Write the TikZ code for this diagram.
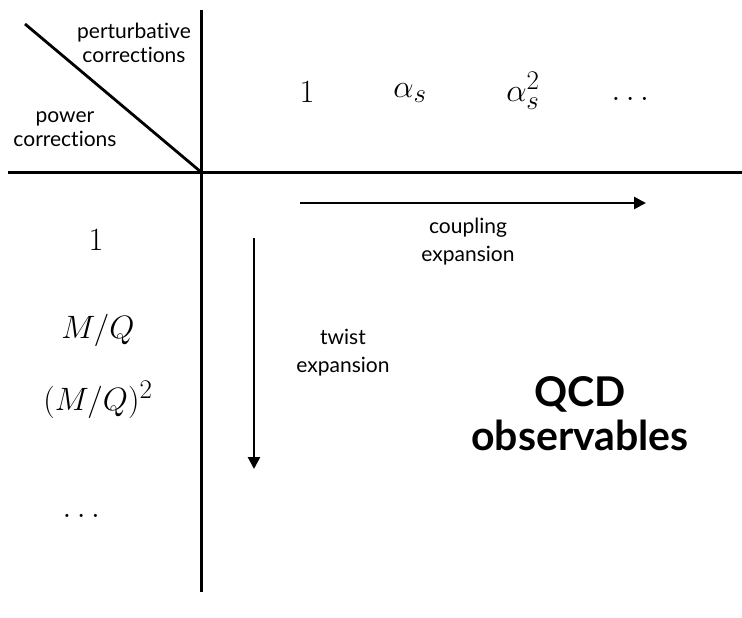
\documentclass[tikz,border=0pt]{standalone}
\usepackage{amsmath}
\usepackage[no-math]{fontspec}
\setmainfont{Lato}[Ligatures=CommonOff]
\usetikzlibrary{positioning,arrows.meta}

\begin{document}
\begin{tikzpicture}[
    x=1pt, y=-1pt,
    axis/.style={line width=3pt},
    arrow/.style={-{Triangle[length=12pt,width=12pt]}, line width=2.6pt},
    lbl/.style={align=center, font=\fontsize{21}{28}\selectfont, inner sep=0pt},
    corner/.style={align=center, font=\fontsize{21}{24.5}\selectfont, inner sep=0pt},
    term/.style={font=\Huge, scale=1.3, transform shape, inner sep=0pt},
    big/.style={align=center, font=\fontsize{41}{44}\selectfont\bfseries, inner sep=0pt}
]
\useasboundingbox (0,0) rectangle (742,618);

% Axes
\coordinate (origin) at (201,172);
\coordinate (left) at (8,172);
\coordinate (right) at (742,172);
\coordinate (top) at (201,10);
\coordinate (bottom) at (201,592);
\coordinate (diagstart) at (25,24);
\draw[axis] (left) -- (right);
\draw[axis] (top) -- (bottom);
\draw[line width=2.8pt] (diagstart) -- (origin);

% Corner labels
\node[corner] (pert) at (134,43) {perturbative\\corrections};
\node[corner] (power) at (65,129) {power\\corrections};

% Top row
\node[term] (c0) at (307,92) {$1$};
\node[term] (c1) at (410,93) {$\alpha_s$};
\node[term] (c2) at (523,91) {$\alpha_s^2$};
\node[term] (c3) at (633,99) {$\dots$};

% Left column
\node[term] (p0) at (96,240) {$1$};
\node[term] (p1) at (98,330) {$M/Q$};
\node[term] (p2) at (98,400) {$(M/Q)^2$};
\node[term] (p3) at (84,516) {$\dots$};

% Arrows
\coordinate (cstart) at (300,203);
\coordinate (cend) at (646,203);
\coordinate (tstart) at (254,238);
\coordinate (tend) at (254,469);
\draw[arrow] (cstart) -- (cend);
\draw[arrow] (tstart) -- (tend);
\node[lbl] (coupling) at (468,242) {coupling\\expansion};
\node[lbl] (twist) at (343,353) {twist\\expansion};

% Title
\node[big] (qcd) at (580,414) {QCD\\observables};

\end{tikzpicture}
\end{document}
